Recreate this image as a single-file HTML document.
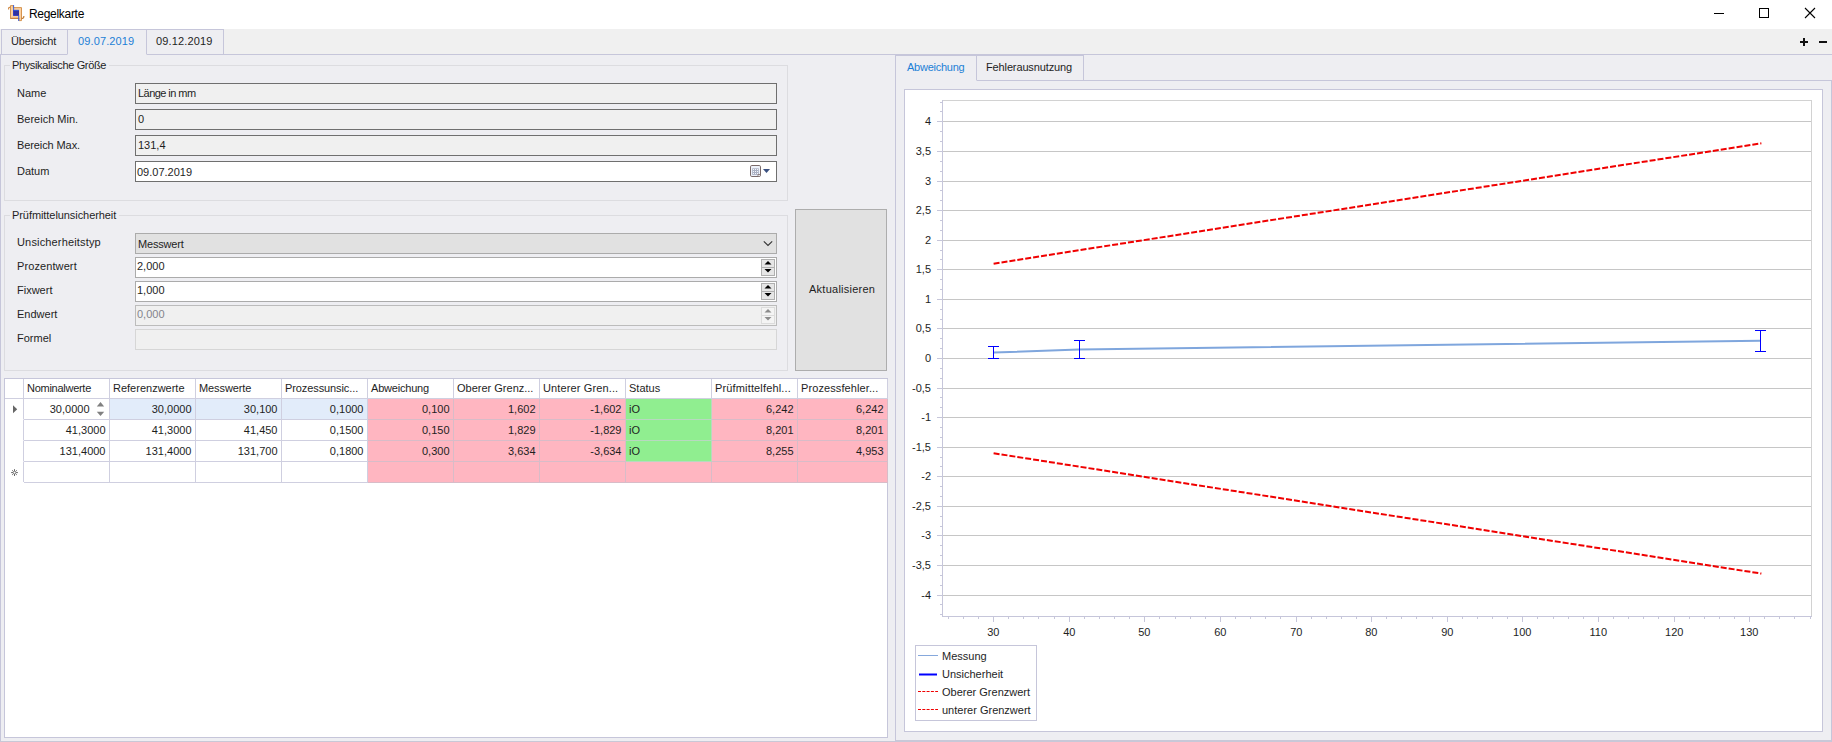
<!DOCTYPE html>
<html lang="de"><head><meta charset="utf-8"><title>Regelkarte</title>
<style>
html,body{margin:0;padding:0;}
body{width:1832px;height:742px;overflow:hidden;background:#fff;position:relative;font-family:"Liberation Sans",sans-serif;font-size:11px;color:#1e1e1e;}
div,span{box-sizing:border-box;}
.abs{position:absolute;}
.t{position:absolute;white-space:nowrap;line-height:14px;height:14px;}
.titlebar{left:0;top:0;width:1832px;height:29px;background:#fff;}
.title{left:29px;top:6px;font-size:12px;line-height:16px;height:16px;color:#000;letter-spacing:-0.3px;}
.strip{left:0;top:29px;width:1832px;height:25px;background:#f0f0f0;}
.main{left:0;top:54px;width:1832px;height:688px;background:#eeeef2;border-top:1px solid #c6c6da;}
.tab{position:absolute;top:29px;height:26px;border:1px solid #c6c6da;background:#eeeef2;}
.tab.act{border-bottom-color:#eeeef2;}
.gb{position:absolute;border:1px solid #dcdce0;}
.gbt{position:absolute;background:#eeeef2;padding:0 3px 0 0;letter-spacing:-0.36px;}
.inp{position:absolute;height:21px;border:1px solid #6f6f6f;background:#f0f0f0;}
.inp.w{background:#fff;}
.inp.l{border-color:#ababab;}
.inp.d{border-color:#bcbcbc;background:#f0f0f0;}
.inp.f{border-color:#d6d6d6;background:#f0f0f0;}
.cell{position:absolute;height:21px;border-right:1px solid #cfcfe0;border-bottom:1px solid #cfcfe0;}
.num{position:absolute;right:3.5px;top:3px;line-height:14px;white-space:nowrap;}
.lft{position:absolute;left:4px;top:3px;line-height:14px;white-space:nowrap;}
svg{position:absolute;left:0;top:0;overflow:visible;}
svg text{font-family:"Liberation Sans",sans-serif;font-size:11px;fill:#1e1e1e;}
</style></head><body>

<div class="abs titlebar"></div>
<svg width="32" height="29" viewBox="0 0 32 29">
<path d="M10.5 5.6h2.8v2h8.2v13h-2.6v-2.2h-8.4z" fill="#fbd0a0" stroke="#d69450" stroke-width="1"/>
<path d="M10.5 7.4q-2-0.4-1.9 1.2v1" fill="none" stroke="#d08c48" stroke-width="1.2"/>
<path d="M21.5 18.3h1q1.3 0 1.3-1.2v-1" fill="none" stroke="#c07a30" stroke-width="1.2"/>
<path d="M10.3 18.4h9" fill="none" stroke="#c88040" stroke-width="1.2"/>
<rect x="13.2" y="10.1" width="5.8" height="5.6" fill="#3232a0"/>
<path d="M13.6 5v5.3h5.2M18.7 15.4v5.6" fill="none" stroke="#2a5ae8" stroke-width="0.9"/>
<path d="M13.5 10.3v5.2h5.2" fill="none" stroke="#2430d0" stroke-width="0.7"/>
</svg>
<div class="t title">Regelkarte</div>
<svg width="1832" height="29" viewBox="0 0 1832 29">
<path d="M1714 13.5h10" stroke="#000" stroke-width="1" fill="none"/>
<rect x="1759.5" y="8.5" width="9" height="9" stroke="#000" stroke-width="1" fill="none"/>
<path d="M1805 8l10 10M1815 8l-10 10" stroke="#000" stroke-width="1.1" fill="none"/>
</svg>
<div class="abs strip"></div>
<div class="abs main"></div>
<div class="tab" style="left:1px;width:67px;height:26px;"></div>
<div class="tab" style="left:146px;width:78px;height:26px;"></div>
<div class="tab act" style="left:67px;width:80px;"></div>
<div class="t" style="left:11px;top:34px;letter-spacing:-0.15px;">Übersicht</div>
<div class="t" style="left:78px;top:34px;color:#1c7fd6;letter-spacing:0.12px;">09.07.2019</div>
<div class="t" style="left:156px;top:34px;letter-spacing:0.15px;">09.12.2019</div>
<svg width="1832" height="60" viewBox="0 0 1832 60">
<path d="M1800 42h8M1804 38v8" stroke="#111" stroke-width="2" fill="none"/>
<path d="M1819 42h8" stroke="#111" stroke-width="2" fill="none"/>
</svg>
<div class="abs" style="left:0;top:54px;width:1px;height:688px;background:#c6c6da;"></div>
<div class="abs" style="left:0;top:741px;width:895px;height:1px;background:#c8c8d6;"></div>
<div class="abs" style="left:895px;top:740px;width:937px;height:2px;background:#c8c8d8;"></div>
<div class="gb" style="left:4px;top:65px;width:784px;height:136px;"></div>
<div class="t gbt" style="left:10px;top:58px;padding-left:2px;">Physikalische Größe</div>
<div class="t" style="left:17px;top:86px;letter-spacing:0px;">Name</div>
<div class="inp" style="left:135px;top:83px;width:642px;"><span class="t" style="left:2px;top:2px;letter-spacing:-0.55px;">Länge in mm</span></div>
<div class="t" style="left:17px;top:112px;letter-spacing:0px;">Bereich Min.</div>
<div class="inp" style="left:135px;top:109px;width:642px;"><span class="t" style="left:2px;top:2px;letter-spacing:0px;">0</span></div>
<div class="t" style="left:17px;top:138px;letter-spacing:-0.1px;">Bereich Max.</div>
<div class="inp" style="left:135px;top:135px;width:642px;"><span class="t" style="left:2px;top:2px;letter-spacing:0px;">131,4</span></div>
<div class="t" style="left:17px;top:164px;letter-spacing:0px;">Datum</div>
<div class="inp w" style="left:135px;top:161px;width:642px;"><span class="t" style="left:1px;top:3px;letter-spacing:0px;">09.07.2019</span></div>
<svg width="800" height="200" viewBox="0 0 800 200">
<rect x="750.5" y="165.5" width="10" height="11" rx="1.3" fill="#eef2fa" stroke="#7a6a6a" stroke-width="1"/>
<rect x="752.2" y="168.3" width="6.6" height="6.6" fill="#aab0c2"/>
<g fill="#f4f6fb"><rect x="753" y="169" width="1" height="1"/><rect x="755" y="169" width="1" height="1"/><rect x="757" y="169" width="1" height="1"/><rect x="753" y="171" width="1" height="1"/><rect x="755" y="171" width="1" height="1"/><rect x="757" y="171" width="1" height="1"/><rect x="753" y="173" width="1" height="1"/><rect x="755" y="173" width="1" height="1"/><rect x="757" y="173" width="1" height="1"/></g>
<path d="M758 176.5v-2h2.5" fill="#fff" stroke="#7a6a6a" stroke-width="0.8"/>
<path d="M763 169h7l-3.5 4z" fill="#3a5080"/>
</svg>
<div class="gb" style="left:4px;top:215px;width:784px;height:156px;"></div>
<div class="t gbt" style="left:10px;top:208px;padding-left:2px;letter-spacing:-0.07px;">Prüfmittelunsicherheit</div>
<div class="t" style="left:17px;top:235px;letter-spacing:0.16px;">Unsicherheitstyp</div>
<div class="inp l" style="left:135px;top:233px;width:642px;background:#e1e1e1;"><span class="t" style="left:2px;top:3px;letter-spacing:-0.18px;">Messwert</span></div>
<div class="t" style="left:17px;top:259px;letter-spacing:0.1px;">Prozentwert</div>
<div class="inp l w" style="left:135px;top:257px;width:642px;"><span class="t" style="left:1px;top:1px;">2,000</span></div>
<div class="t" style="left:17px;top:283px;letter-spacing:0px;">Fixwert</div>
<div class="inp l w" style="left:135px;top:281px;width:642px;"><span class="t" style="left:1px;top:1px;">1,000</span></div>
<div class="t" style="left:17px;top:307px;letter-spacing:0px;">Endwert</div>
<div class="inp d" style="left:135px;top:305px;width:642px;"><span class="t" style="left:1px;top:1px;color:#84848c;">0,000</span></div>
<div class="t" style="left:17px;top:331px;letter-spacing:0px;">Formel</div>
<div class="inp f" style="left:135px;top:329px;width:642px;"></div>
<svg width="800" height="400" viewBox="0 0 800 400">
<path d="M763.8 241.3l4.2 4.2l4.2-4.2" stroke="#333" stroke-width="1.1" fill="none"/>

<rect x="761.5" y="259.5" width="13" height="8" fill="#e6e6e6" stroke="#b0b0b0" stroke-width="1"/>
<rect x="761.5" y="267.5" width="13" height="8" fill="#e6e6e6" stroke="#b0b0b0" stroke-width="1"/>
<path d="M764.5 264.5h7l-3.5-3.5z" fill="#000"/>
<path d="M764.5 269h7l-3.5 3.5z" fill="#000"/>
<rect x="761.5" y="283.5" width="13" height="8" fill="#e6e6e6" stroke="#b0b0b0" stroke-width="1"/>
<rect x="761.5" y="291.5" width="13" height="8" fill="#e6e6e6" stroke="#b0b0b0" stroke-width="1"/>
<path d="M764.5 288.5h7l-3.5-3.5z" fill="#000"/>
<path d="M764.5 293h7l-3.5 3.5z" fill="#000"/>
<rect x="761.5" y="307.5" width="13" height="8" fill="#f4f4f4" stroke="#dcdcdc" stroke-width="1"/>
<rect x="761.5" y="315.5" width="13" height="8" fill="#f4f4f4" stroke="#dcdcdc" stroke-width="1"/>
<path d="M764.5 312.5h7l-3.5-3.5z" fill="#8c8c8c"/>
<path d="M764.5 317h7l-3.5 3.5z" fill="#8c8c8c"/>
</svg>
<div class="abs" style="left:795px;top:209px;width:92px;height:162px;border:1px solid #adadad;background:#e1e1e1;"></div>
<div class="t" style="left:809px;top:282px;letter-spacing:0.25px;">Aktualisieren</div>
<div class="abs" style="left:4px;top:378px;width:884px;height:360px;background:#fff;border:1px solid #c6c6da;"></div>
<div class="cell" style="left:5px;top:379px;width:19px;height:20px;"></div>
<div class="cell" style="left:24px;top:379px;width:86px;height:20px;"><span class="lft" style="top:2px;left:3px;letter-spacing:-0.27px;">Nominalwerte</span></div>
<div class="cell" style="left:110px;top:379px;width:86px;height:20px;"><span class="lft" style="top:2px;left:3px;letter-spacing:0px;">Referenzwerte</span></div>
<div class="cell" style="left:196px;top:379px;width:86px;height:20px;"><span class="lft" style="top:2px;left:3px;letter-spacing:-0.1px;">Messwerte</span></div>
<div class="cell" style="left:282px;top:379px;width:86px;height:20px;"><span class="lft" style="top:2px;left:3px;letter-spacing:-0.1px;">Prozessunsic...</span></div>
<div class="cell" style="left:368px;top:379px;width:86px;height:20px;"><span class="lft" style="top:2px;left:3px;letter-spacing:-0.2px;">Abweichung</span></div>
<div class="cell" style="left:454px;top:379px;width:86px;height:20px;"><span class="lft" style="top:2px;left:3px;letter-spacing:0px;">Oberer Grenz...</span></div>
<div class="cell" style="left:540px;top:379px;width:86px;height:20px;"><span class="lft" style="top:2px;left:3px;letter-spacing:0.13px;">Unterer Gren...</span></div>
<div class="cell" style="left:626px;top:379px;width:86px;height:20px;"><span class="lft" style="top:2px;left:3px;letter-spacing:0px;">Status</span></div>
<div class="cell" style="left:712px;top:379px;width:86px;height:20px;"><span class="lft" style="top:2px;left:3px;letter-spacing:0.15px;">Prüfmittelfehl...</span></div>
<div class="cell" style="left:798px;top:379px;width:90px;height:20px;"><span class="lft" style="top:2px;left:3px;letter-spacing:0.1px;">Prozessfehler...</span></div>
<div class="cell" style="left:5px;top:399px;width:19px;border-bottom-color:#fff;"></div>
<div class="cell" style="left:24px;top:399px;width:86px;background:#fff;"><span class="num" style="right:19.5px;">30,0000</span></div>
<div class="cell" style="left:110px;top:399px;width:86px;background:#e2ecfa;"><span class="num">30,0000</span></div>
<div class="cell" style="left:196px;top:399px;width:86px;background:#e2ecfa;"><span class="num">30,100</span></div>
<div class="cell" style="left:282px;top:399px;width:86px;background:#e2ecfa;"><span class="num">0,1000</span></div>
<div class="cell" style="left:368px;top:399px;width:86px;background:#ffb6c1;border-color:#d8bcc8;"><span class="num">0,100</span></div>
<div class="cell" style="left:454px;top:399px;width:86px;background:#ffb6c1;border-color:#d8bcc8;"><span class="num">1,602</span></div>
<div class="cell" style="left:540px;top:399px;width:86px;background:#ffb6c1;border-color:#d8bcc8;"><span class="num">-1,602</span></div>
<div class="cell" style="left:626px;top:399px;width:86px;background:#90ee90;border-color:#b8d8c0;"><span class="lft" style="left:3px;">iO</span></div>
<div class="cell" style="left:712px;top:399px;width:86px;background:#ffb6c1;border-color:#d8bcc8;"><span class="num">6,242</span></div>
<div class="cell" style="left:798px;top:399px;width:90px;background:#ffb6c1;border-color:#d8bcc8;"><span class="num">6,242</span></div>
<div class="cell" style="left:5px;top:420px;width:19px;border-bottom-color:#fff;"></div>
<div class="cell" style="left:24px;top:420px;width:86px;background:#fff;"><span class="num">41,3000</span></div>
<div class="cell" style="left:110px;top:420px;width:86px;background:#fff;"><span class="num">41,3000</span></div>
<div class="cell" style="left:196px;top:420px;width:86px;background:#fff;"><span class="num">41,450</span></div>
<div class="cell" style="left:282px;top:420px;width:86px;background:#fff;"><span class="num">0,1500</span></div>
<div class="cell" style="left:368px;top:420px;width:86px;background:#ffb6c1;border-color:#d8bcc8;"><span class="num">0,150</span></div>
<div class="cell" style="left:454px;top:420px;width:86px;background:#ffb6c1;border-color:#d8bcc8;"><span class="num">1,829</span></div>
<div class="cell" style="left:540px;top:420px;width:86px;background:#ffb6c1;border-color:#d8bcc8;"><span class="num">-1,829</span></div>
<div class="cell" style="left:626px;top:420px;width:86px;background:#90ee90;border-color:#b8d8c0;"><span class="lft" style="left:3px;">iO</span></div>
<div class="cell" style="left:712px;top:420px;width:86px;background:#ffb6c1;border-color:#d8bcc8;"><span class="num">8,201</span></div>
<div class="cell" style="left:798px;top:420px;width:90px;background:#ffb6c1;border-color:#d8bcc8;"><span class="num">8,201</span></div>
<div class="cell" style="left:5px;top:441px;width:19px;border-bottom-color:#fff;"></div>
<div class="cell" style="left:24px;top:441px;width:86px;background:#fff;"><span class="num">131,4000</span></div>
<div class="cell" style="left:110px;top:441px;width:86px;background:#fff;"><span class="num">131,4000</span></div>
<div class="cell" style="left:196px;top:441px;width:86px;background:#fff;"><span class="num">131,700</span></div>
<div class="cell" style="left:282px;top:441px;width:86px;background:#fff;"><span class="num">0,1800</span></div>
<div class="cell" style="left:368px;top:441px;width:86px;background:#ffb6c1;border-color:#d8bcc8;"><span class="num">0,300</span></div>
<div class="cell" style="left:454px;top:441px;width:86px;background:#ffb6c1;border-color:#d8bcc8;"><span class="num">3,634</span></div>
<div class="cell" style="left:540px;top:441px;width:86px;background:#ffb6c1;border-color:#d8bcc8;"><span class="num">-3,634</span></div>
<div class="cell" style="left:626px;top:441px;width:86px;background:#90ee90;border-color:#b8d8c0;"><span class="lft" style="left:3px;">iO</span></div>
<div class="cell" style="left:712px;top:441px;width:86px;background:#ffb6c1;border-color:#d8bcc8;"><span class="num">8,255</span></div>
<div class="cell" style="left:798px;top:441px;width:90px;background:#ffb6c1;border-color:#d8bcc8;"><span class="num">4,953</span></div>
<div class="cell" style="left:5px;top:462px;width:19px;border-bottom-color:#fff;"></div>
<div class="cell" style="left:24px;top:462px;width:86px;background:#fff;"><span class="num"></span></div>
<div class="cell" style="left:110px;top:462px;width:86px;background:#fff;"><span class="num"></span></div>
<div class="cell" style="left:196px;top:462px;width:86px;background:#fff;"><span class="num"></span></div>
<div class="cell" style="left:282px;top:462px;width:86px;background:#fff;"><span class="num"></span></div>
<div class="cell" style="left:368px;top:462px;width:86px;background:#ffb6c1;border-color:#d8bcc8;"><span class="num"></span></div>
<div class="cell" style="left:454px;top:462px;width:86px;background:#ffb6c1;border-color:#d8bcc8;"><span class="num"></span></div>
<div class="cell" style="left:540px;top:462px;width:86px;background:#ffb6c1;border-color:#d8bcc8;"><span class="num"></span></div>
<div class="cell" style="left:626px;top:462px;width:86px;background:#ffb6c1;border-color:#d8bcc8;"><span class="lft" style="left:3px;"></span></div>
<div class="cell" style="left:712px;top:462px;width:86px;background:#ffb6c1;border-color:#d8bcc8;"><span class="num"></span></div>
<div class="cell" style="left:798px;top:462px;width:90px;background:#ffb6c1;border-color:#d8bcc8;"><span class="num"></span></div>
<div class="abs" style="left:5px;top:482px;width:19px;height:1px;background:#fff;"></div>
<svg width="200" height="500" viewBox="0 0 200 500">
<path d="M13 405.3v8l4.2-4z" fill="#666"/>
<path d="M96.8 406.4h7.4l-3.7-4.4z" fill="#808080"/>
<path d="M96.8 411.7h7.4l-3.7 4.4z" fill="#808080"/>
<path d="M14.5 469.2v2.4M14.5 473.6v2.4M11.1 472.6h2.4M15.5 472.6h2.4M12.2 470.3l1.6 1.6M15.2 473.3l1.6 1.6M16.8 470.3l-1.6 1.6M13.8 473.3l-1.6 1.6" stroke="#555" stroke-width="0.9" fill="none"/>
</svg>
<div class="abs" style="left:895px;top:54px;width:1px;height:688px;background:#c6c6da;"></div>
<div class="abs" style="left:1831px;top:80px;width:1px;height:662px;background:#c6c6da;"></div>
<div class="abs" style="left:895px;top:80px;width:937px;height:1px;background:#c6c6da;"></div>
<div class="tab" style="left:976px;top:55px;width:108px;height:26px;"></div>
<div class="tab act" style="left:896px;top:55px;width:81px;height:26px;border-left:none;"></div>
<div class="t" style="left:907px;top:60px;color:#1c7fd6;letter-spacing:-0.25px;">Abweichung</div>
<div class="t" style="left:986px;top:60px;letter-spacing:-0.13px;">Fehlerausnutzung</div>
<div class="abs" style="left:904px;top:89px;width:919px;height:643px;background:#fff;border:1px solid #c6c6da;"></div>
<svg width="1832" height="742" viewBox="0 0 1832 742">
<rect x="942.5" y="100.5" width="869" height="516" fill="#fff" stroke="#d2d2d2" stroke-width="1"/>
<path d="M943 595.5H1811" stroke="#c6c6c6" stroke-width="1"/>
<path d="M943 565.5H1811" stroke="#c6c6c6" stroke-width="1"/>
<path d="M943 535.5H1811" stroke="#c6c6c6" stroke-width="1"/>
<path d="M943 506.5H1811" stroke="#c6c6c6" stroke-width="1"/>
<path d="M943 476.5H1811" stroke="#c6c6c6" stroke-width="1"/>
<path d="M943 447.5H1811" stroke="#c6c6c6" stroke-width="1"/>
<path d="M943 417.5H1811" stroke="#c6c6c6" stroke-width="1"/>
<path d="M943 388.5H1811" stroke="#c6c6c6" stroke-width="1"/>
<path d="M943 358.5H1811" stroke="#c6c6c6" stroke-width="1"/>
<path d="M943 328.5H1811" stroke="#c6c6c6" stroke-width="1"/>
<path d="M943 299.5H1811" stroke="#c6c6c6" stroke-width="1"/>
<path d="M943 269.5H1811" stroke="#c6c6c6" stroke-width="1"/>
<path d="M943 240.5H1811" stroke="#c6c6c6" stroke-width="1"/>
<path d="M943 210.5H1811" stroke="#c6c6c6" stroke-width="1"/>
<path d="M943 181.5H1811" stroke="#c6c6c6" stroke-width="1"/>
<path d="M943 151.5H1811" stroke="#c6c6c6" stroke-width="1"/>
<path d="M943 121.5H1811" stroke="#c6c6c6" stroke-width="1"/>
<path d="M942.5 100V617" stroke="#c6c6da" stroke-width="1"/>
<path d="M942 616.5H1812" stroke="#c6c6da" stroke-width="1"/>
<path d="M940 614.5H942" stroke="#c6c6da" stroke-width="1"/>
<path d="M940 604.5H942" stroke="#c6c6da" stroke-width="1"/>
<path d="M937 595.5H942" stroke="#c6c6da" stroke-width="1"/>
<path d="M940 585.5H942" stroke="#c6c6da" stroke-width="1"/>
<path d="M940 575.5H942" stroke="#c6c6da" stroke-width="1"/>
<path d="M937 565.5H942" stroke="#c6c6da" stroke-width="1"/>
<path d="M940 555.5H942" stroke="#c6c6da" stroke-width="1"/>
<path d="M940 545.5H942" stroke="#c6c6da" stroke-width="1"/>
<path d="M937 535.5H942" stroke="#c6c6da" stroke-width="1"/>
<path d="M940 526.5H942" stroke="#c6c6da" stroke-width="1"/>
<path d="M940 516.5H942" stroke="#c6c6da" stroke-width="1"/>
<path d="M937 506.5H942" stroke="#c6c6da" stroke-width="1"/>
<path d="M940 496.5H942" stroke="#c6c6da" stroke-width="1"/>
<path d="M940 486.5H942" stroke="#c6c6da" stroke-width="1"/>
<path d="M937 476.5H942" stroke="#c6c6da" stroke-width="1"/>
<path d="M940 466.5H942" stroke="#c6c6da" stroke-width="1"/>
<path d="M940 457.5H942" stroke="#c6c6da" stroke-width="1"/>
<path d="M937 447.5H942" stroke="#c6c6da" stroke-width="1"/>
<path d="M940 437.5H942" stroke="#c6c6da" stroke-width="1"/>
<path d="M940 427.5H942" stroke="#c6c6da" stroke-width="1"/>
<path d="M937 417.5H942" stroke="#c6c6da" stroke-width="1"/>
<path d="M940 407.5H942" stroke="#c6c6da" stroke-width="1"/>
<path d="M940 397.5H942" stroke="#c6c6da" stroke-width="1"/>
<path d="M937 388.5H942" stroke="#c6c6da" stroke-width="1"/>
<path d="M940 378.5H942" stroke="#c6c6da" stroke-width="1"/>
<path d="M940 368.5H942" stroke="#c6c6da" stroke-width="1"/>
<path d="M937 358.5H942" stroke="#c6c6da" stroke-width="1"/>
<path d="M940 348.5H942" stroke="#c6c6da" stroke-width="1"/>
<path d="M940 338.5H942" stroke="#c6c6da" stroke-width="1"/>
<path d="M937 328.5H942" stroke="#c6c6da" stroke-width="1"/>
<path d="M940 319.5H942" stroke="#c6c6da" stroke-width="1"/>
<path d="M940 309.5H942" stroke="#c6c6da" stroke-width="1"/>
<path d="M937 299.5H942" stroke="#c6c6da" stroke-width="1"/>
<path d="M940 289.5H942" stroke="#c6c6da" stroke-width="1"/>
<path d="M940 279.5H942" stroke="#c6c6da" stroke-width="1"/>
<path d="M937 269.5H942" stroke="#c6c6da" stroke-width="1"/>
<path d="M940 259.5H942" stroke="#c6c6da" stroke-width="1"/>
<path d="M940 250.5H942" stroke="#c6c6da" stroke-width="1"/>
<path d="M937 240.5H942" stroke="#c6c6da" stroke-width="1"/>
<path d="M940 230.5H942" stroke="#c6c6da" stroke-width="1"/>
<path d="M940 220.5H942" stroke="#c6c6da" stroke-width="1"/>
<path d="M937 210.5H942" stroke="#c6c6da" stroke-width="1"/>
<path d="M940 200.5H942" stroke="#c6c6da" stroke-width="1"/>
<path d="M940 190.5H942" stroke="#c6c6da" stroke-width="1"/>
<path d="M937 181.5H942" stroke="#c6c6da" stroke-width="1"/>
<path d="M940 171.5H942" stroke="#c6c6da" stroke-width="1"/>
<path d="M940 161.5H942" stroke="#c6c6da" stroke-width="1"/>
<path d="M937 151.5H942" stroke="#c6c6da" stroke-width="1"/>
<path d="M940 141.5H942" stroke="#c6c6da" stroke-width="1"/>
<path d="M940 131.5H942" stroke="#c6c6da" stroke-width="1"/>
<path d="M937 121.5H942" stroke="#c6c6da" stroke-width="1"/>
<path d="M940 111.5H942" stroke="#c6c6da" stroke-width="1"/>
<path d="M940 102.5H942" stroke="#c6c6da" stroke-width="1"/>
<text x="931" y="598.5" text-anchor="end">-4</text>
<text x="931" y="568.5" text-anchor="end">-3,5</text>
<text x="931" y="538.5" text-anchor="end">-3</text>
<text x="931" y="509.5" text-anchor="end">-2,5</text>
<text x="931" y="479.5" text-anchor="end">-2</text>
<text x="931" y="450.5" text-anchor="end">-1,5</text>
<text x="931" y="420.5" text-anchor="end">-1</text>
<text x="931" y="391.5" text-anchor="end">-0,5</text>
<text x="931" y="361.5" text-anchor="end">0</text>
<text x="931" y="331.5" text-anchor="end">0,5</text>
<text x="931" y="302.5" text-anchor="end">1</text>
<text x="931" y="272.5" text-anchor="end">1,5</text>
<text x="931" y="243.5" text-anchor="end">2</text>
<text x="931" y="213.5" text-anchor="end">2,5</text>
<text x="931" y="184.5" text-anchor="end">3</text>
<text x="931" y="154.5" text-anchor="end">3,5</text>
<text x="931" y="124.5" text-anchor="end">4</text>
<path d="M948.5 617V619" stroke="#c6c6da" stroke-width="1"/>
<path d="M963.5 617V619" stroke="#c6c6da" stroke-width="1"/>
<path d="M978.5 617V619" stroke="#c6c6da" stroke-width="1"/>
<path d="M993.5 617V622" stroke="#c6c6da" stroke-width="1"/>
<text x="993.3" y="635.5" text-anchor="middle">30</text>
<path d="M1008.5 617V619" stroke="#c6c6da" stroke-width="1"/>
<path d="M1023.5 617V619" stroke="#c6c6da" stroke-width="1"/>
<path d="M1038.5 617V619" stroke="#c6c6da" stroke-width="1"/>
<path d="M1054.5 617V619" stroke="#c6c6da" stroke-width="1"/>
<path d="M1069.5 617V622" stroke="#c6c6da" stroke-width="1"/>
<text x="1069.3" y="635.5" text-anchor="middle">40</text>
<path d="M1084.5 617V619" stroke="#c6c6da" stroke-width="1"/>
<path d="M1099.5 617V619" stroke="#c6c6da" stroke-width="1"/>
<path d="M1114.5 617V619" stroke="#c6c6da" stroke-width="1"/>
<path d="M1129.5 617V619" stroke="#c6c6da" stroke-width="1"/>
<path d="M1144.5 617V622" stroke="#c6c6da" stroke-width="1"/>
<text x="1144.3" y="635.5" text-anchor="middle">50</text>
<path d="M1159.5 617V619" stroke="#c6c6da" stroke-width="1"/>
<path d="M1175.5 617V619" stroke="#c6c6da" stroke-width="1"/>
<path d="M1190.5 617V619" stroke="#c6c6da" stroke-width="1"/>
<path d="M1205.5 617V619" stroke="#c6c6da" stroke-width="1"/>
<path d="M1220.5 617V622" stroke="#c6c6da" stroke-width="1"/>
<text x="1220.3" y="635.5" text-anchor="middle">60</text>
<path d="M1235.5 617V619" stroke="#c6c6da" stroke-width="1"/>
<path d="M1250.5 617V619" stroke="#c6c6da" stroke-width="1"/>
<path d="M1265.5 617V619" stroke="#c6c6da" stroke-width="1"/>
<path d="M1280.5 617V619" stroke="#c6c6da" stroke-width="1"/>
<path d="M1296.5 617V622" stroke="#c6c6da" stroke-width="1"/>
<text x="1296.3" y="635.5" text-anchor="middle">70</text>
<path d="M1311.5 617V619" stroke="#c6c6da" stroke-width="1"/>
<path d="M1326.5 617V619" stroke="#c6c6da" stroke-width="1"/>
<path d="M1341.5 617V619" stroke="#c6c6da" stroke-width="1"/>
<path d="M1356.5 617V619" stroke="#c6c6da" stroke-width="1"/>
<path d="M1371.5 617V622" stroke="#c6c6da" stroke-width="1"/>
<text x="1371.3" y="635.5" text-anchor="middle">80</text>
<path d="M1386.5 617V619" stroke="#c6c6da" stroke-width="1"/>
<path d="M1401.5 617V619" stroke="#c6c6da" stroke-width="1"/>
<path d="M1416.5 617V619" stroke="#c6c6da" stroke-width="1"/>
<path d="M1432.5 617V619" stroke="#c6c6da" stroke-width="1"/>
<path d="M1447.5 617V622" stroke="#c6c6da" stroke-width="1"/>
<text x="1447.3" y="635.5" text-anchor="middle">90</text>
<path d="M1462.5 617V619" stroke="#c6c6da" stroke-width="1"/>
<path d="M1477.5 617V619" stroke="#c6c6da" stroke-width="1"/>
<path d="M1492.5 617V619" stroke="#c6c6da" stroke-width="1"/>
<path d="M1507.5 617V619" stroke="#c6c6da" stroke-width="1"/>
<path d="M1522.5 617V622" stroke="#c6c6da" stroke-width="1"/>
<text x="1522.3" y="635.5" text-anchor="middle">100</text>
<path d="M1537.5 617V619" stroke="#c6c6da" stroke-width="1"/>
<path d="M1553.5 617V619" stroke="#c6c6da" stroke-width="1"/>
<path d="M1568.5 617V619" stroke="#c6c6da" stroke-width="1"/>
<path d="M1583.5 617V619" stroke="#c6c6da" stroke-width="1"/>
<path d="M1598.5 617V622" stroke="#c6c6da" stroke-width="1"/>
<text x="1598.3" y="635.5" text-anchor="middle">110</text>
<path d="M1613.5 617V619" stroke="#c6c6da" stroke-width="1"/>
<path d="M1628.5 617V619" stroke="#c6c6da" stroke-width="1"/>
<path d="M1643.5 617V619" stroke="#c6c6da" stroke-width="1"/>
<path d="M1658.5 617V619" stroke="#c6c6da" stroke-width="1"/>
<path d="M1674.5 617V622" stroke="#c6c6da" stroke-width="1"/>
<text x="1674.3" y="635.5" text-anchor="middle">120</text>
<path d="M1689.5 617V619" stroke="#c6c6da" stroke-width="1"/>
<path d="M1704.5 617V619" stroke="#c6c6da" stroke-width="1"/>
<path d="M1719.5 617V619" stroke="#c6c6da" stroke-width="1"/>
<path d="M1734.5 617V619" stroke="#c6c6da" stroke-width="1"/>
<path d="M1749.5 617V622" stroke="#c6c6da" stroke-width="1"/>
<text x="1749.3" y="635.5" text-anchor="middle">130</text>
<path d="M1764.5 617V619" stroke="#c6c6da" stroke-width="1"/>
<path d="M1779.5 617V619" stroke="#c6c6da" stroke-width="1"/>
<path d="M1794.5 617V619" stroke="#c6c6da" stroke-width="1"/>
<path d="M1810.5 617V619" stroke="#c6c6da" stroke-width="1"/>
<path d="M993.60 352.53 L1079.03 349.58 L1760.18 340.70" stroke="#7fa6dd" stroke-width="2" fill="none"/>
<path d="M993.60 263.69 L1079.03 250.26 L1761.39 143.31" stroke="#f00000" stroke-width="2" stroke-dasharray="6 2" fill="none"/>
<path d="M993.60 453.21 L1079.03 466.64 L1761.39 573.59" stroke="#f00000" stroke-width="2" stroke-dasharray="6 2" fill="none"/>
<path d="M993.5 346.5V358.5M988.0 346.5H999.0M988.0 358.5H999.0" stroke="#0000ff" stroke-width="1" fill="none"/>
<path d="M1079.5 340.5V358.5M1074.0 340.5H1085.0M1074.0 358.5H1085.0" stroke="#0000ff" stroke-width="1" fill="none"/>
<path d="M1760.5 330.5V351.5M1755.0 330.5H1766.0M1755.0 351.5H1766.0" stroke="#0000ff" stroke-width="1" fill="none"/>
<rect x="915.5" y="645.5" width="121" height="75" fill="#fff" stroke="#c6c6da" stroke-width="1"/>
<path d="M918 655.5H938" stroke="#86a8dc" stroke-width="1"/>
<path d="M919 674.5H937" stroke="#0000ff" stroke-width="2"/>
<path d="M918 691.5H938" stroke="#f00000" stroke-width="1" stroke-dasharray="3 1.3"/>
<path d="M918 709.5H938" stroke="#f00000" stroke-width="1" stroke-dasharray="3 1.3"/>
<text x="942" y="660">Messung</text>
<text x="942" y="678">Unsicherheit</text>
<text x="942" y="696">Oberer Grenzwert</text>
<text x="942" y="714">unterer Grenzwert</text>
</svg>
</body></html>
